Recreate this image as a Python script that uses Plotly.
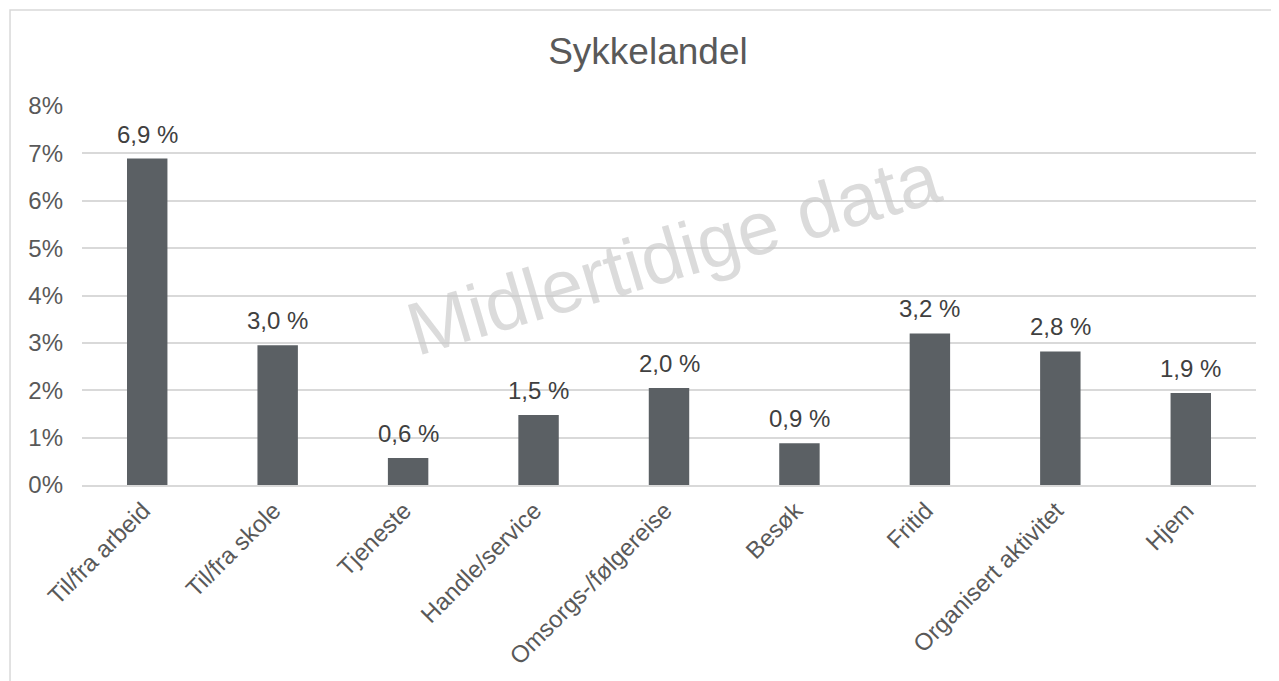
import plotly.graph_objects as go

# Data
categories = ["Til/fra arbeid", "Til/fra skole", "Tjeneste", "Handle/service",
              "Omsorgs-/følgereise", "Besøk", "Fritid", "Organisert aktivitet", "Hjem"]
share_pct = [6.89, 2.95, 0.57, 1.48, 2.05, 0.88, 3.20, 2.82, 1.94]
label_pct = [6.9, 3.0, 0.6, 1.5, 2.0, 0.9, 3.2, 2.8, 1.9]
y_ticks = [0, 1, 2, 3, 4, 5, 6, 7, 8]
y_tick_text = [f"{v}%" for v in y_ticks]

TEXT = "#595959"
FONT = "Liberation Sans, Arial, sans-serif"

fig = go.Figure(go.Bar(
    x=categories,
    y=share_pct,
    width=0.31,
    marker=dict(color="#5B6064", line=dict(width=0)),
    hoverinfo="skip",
))

# data labels above bars
for cat, val, lab in zip(categories, share_pct, label_pct):
    fig.add_annotation(
        x=cat, y=val, text=f"{lab:.1f} %".replace(".", ","),
        showarrow=False, yanchor="bottom", yshift=9,
        font=dict(size=24, color="#404040", family=FONT),
    )

# watermark
fig.add_annotation(
    x=0.504, y=0.612, xref="paper", yref="paper",
    text="Midlertidige data", showarrow=False, textangle=-16.5,
    font=dict(size=75, color="rgba(200,200,200,0.65)", family=FONT),
)

# outer chart border
fig.add_shape(
    type="rect", xref="paper", yref="paper",
    x0=-0.0613, x1=1.2, y0=-0.6, y1=1.2533,
    line=dict(color="#D9D9D9", width=1.5), layer="below",
)

# page body has an 8px margin, so the figure is 8px smaller each way
fig.update_layout(
    title=dict(text="Sykkelandel", x=0.5035, xref="container", y=0.936, yanchor="middle",
               font=dict(size=37, color=TEXT, family=FONT)),
    width=1271, height=673,
    margin=dict(l=74, r=23, t=98, b=196),
    paper_bgcolor="white",
    plot_bgcolor="white",
    showlegend=False,
    font=dict(family=FONT, color=TEXT, size=24),
)
fig.update_xaxes(
    tickangle=-45, tickfont=dict(size=24, color=TEXT),
    showline=True, linecolor="#D9D9D9", linewidth=2,
    ticks="", showgrid=False, ticklabelshift=-4,
)
fig.update_yaxes(
    range=[0, 8], tickvals=y_ticks, ticktext=y_tick_text,
    tickfont=dict(size=24, color=TEXT),
    showgrid=True, gridcolor="#D9D9D9", gridwidth=1.5,
    zeroline=False, ticks="", ticklabelstandoff=18,
)

fig.write_html("out.html")
